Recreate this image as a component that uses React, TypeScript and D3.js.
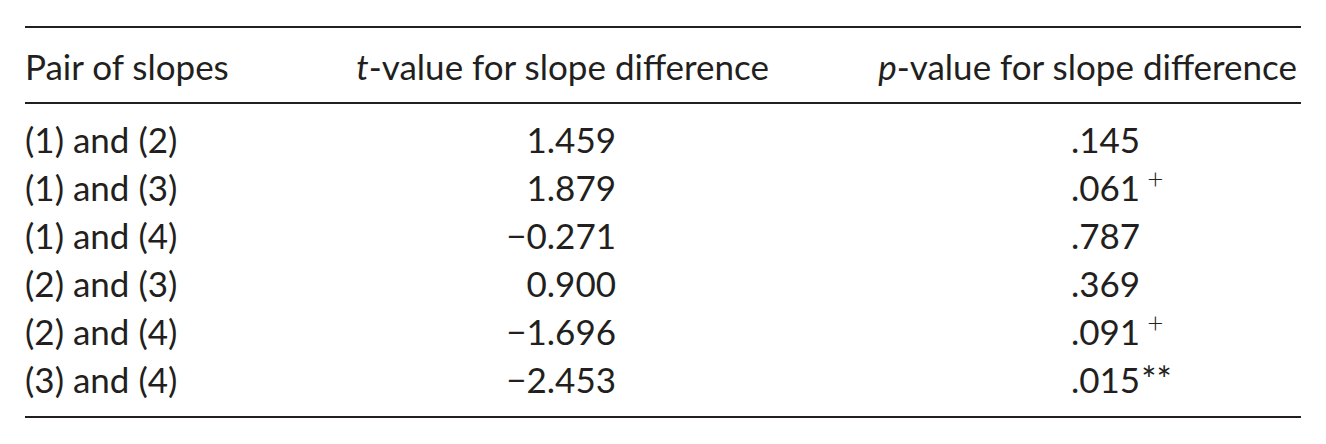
import { useEffect, useRef } from "react"
import * as d3 from "d3"

// table contents
const headers = ["Pair of slopes", "t-value for slope difference", "p-value for slope difference"]
const pairs = ["(1) and (2)", "(1) and (3)", "(1) and (4)", "(2) and (3)", "(2) and (4)", "(3) and (4)"]
const tValues = [1.459, 1.879, -0.271, 0.9, -1.696, -2.453]
const pValues = [".145", ".061", ".787", ".369", ".091", ".015"]
const pMarks = ["", "+", "", "", "+", "**"]

const FONT = "Lato, 'Open Sans', sans-serif"

export default function App() {
  const svgRef = useRef<SVGSVGElement>(null)

  useEffect(() => {
    if (!svgRef.current) return
    const width = 1326
    const height = 444

    const svg = d3.select(svgRef.current)
    svg.selectAll("*").remove()
    svg.attr("width", width).attr("height", height)

    const left = 25
    const right = 1301
    const ink = "#231f20"

    // row positions
    const y = d3.scaleBand<string>().domain(pairs).range([105, 393]).padding(0)
    const baseline = (d: string) => (y(d) ?? 0) + y.bandwidth()

    // horizontal rules
    const rules = [27, 103, 417]
    svg
      .selectAll("line.rule")
      .data(rules)
      .enter()
      .append("line")
      .attr("class", "rule")
      .attr("x1", left)
      .attr("x2", right)
      .attr("y1", d => d)
      .attr("y2", d => d)
      .attr("stroke", ink)
      .attr("stroke-width", 2)

    const fmt = (v: number) => {
      const s = v.toFixed(3)
      return v < 0 ? "\u2212" + s.slice(1) : s
    }

    const text = svg
      .append("g")
      .attr("font-family", FONT)
      .attr("font-size", 35)
      .attr("fill", ink)

    // header
    text.append("text").attr("x", left).attr("y", 80).text(headers[0])

    const h2 = text.append("text").attr("x", 769).attr("y", 80).attr("text-anchor", "end")
    h2.append("tspan").attr("font-style", "italic").text(headers[1].slice(0, 1))
    h2.append("tspan").text(headers[1].slice(1))

    const h3 = text.append("text").attr("x", 1297).attr("y", 80).attr("text-anchor", "end")
    h3.append("tspan").attr("font-style", "italic").text(headers[2].slice(0, 1))
    h3.append("tspan").text(headers[2].slice(1))

    // body rows
    text
      .selectAll("text.pair")
      .data(pairs)
      .enter()
      .append("text")
      .attr("class", "pair")
      .attr("x", left)
      .attr("y", d => baseline(d))
      .text(d => d)

    text
      .selectAll("text.tval")
      .data(tValues)
      .enter()
      .append("text")
      .attr("class", "tval")
      .attr("x", 616)
      .attr("y", (d, i) => baseline(pairs[i]))
      .attr("text-anchor", "end")
      .text(d => fmt(d))

    const pText = text
      .selectAll("text.pval")
      .data(pValues)
      .enter()
      .append("text")
      .attr("class", "pval")
      .attr("x", 1071)
      .attr("y", (d, i) => baseline(pairs[i]))

    pText.append("tspan").text(d => d)
    pText
      .filter((d, i) => pMarks[i] === "+")
      .append("tspan")
      .attr("dx", 7)
      .attr("dy", -12)
      .attr("font-size", 28)
      .attr("font-weight", 300)
      .text("+")
    pText
      .filter((d, i) => pMarks[i] === "**")
      .append("tspan")
      .attr("dx", 1)
      .attr("font-size", 36)
      .text("**")
  }, [])

  return (
    <div style={{ position: "absolute", left: 0, top: 0, background: "#fff" }}>
      <svg ref={svgRef} style={{ display: "block" }} />
    </div>
  )
}
